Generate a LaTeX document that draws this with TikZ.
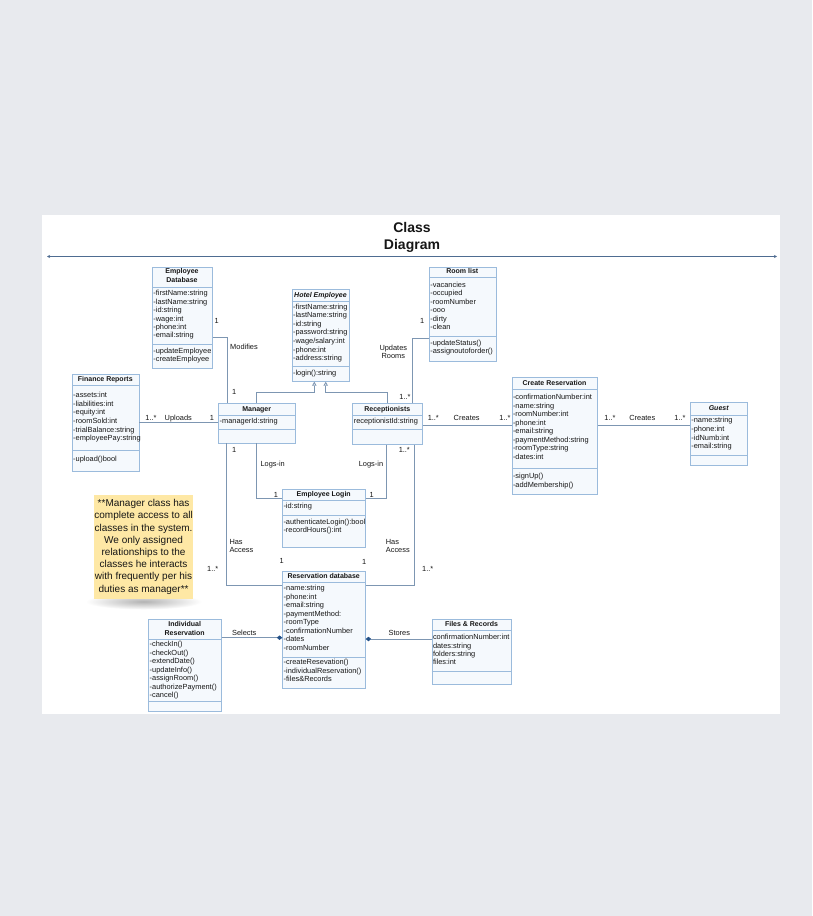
\documentclass[tikz,border=0pt]{standalone}
\usepackage{fontspec}
\setmainfont{Liberation Sans}
\usetikzlibrary{arrows.meta}

\begin{document}
\begin{tikzpicture}[x=1pt, y=-1pt,
  classbox/.style={draw=boxline, fill=boxfill, line width=0.7pt, inner sep=0pt, anchor=north west},
  sepline/.style={draw=boxline, line width=0.7pt},
  classname/.style={font=\bfseries\fontsize{7}{9}\selectfont, text=txtcolor, inner sep=0pt, text height=5.2pt, text depth=1.5pt},
  classnametwo/.style={font=\bfseries\fontsize{7}{9}\selectfont, text=txtcolor, inner sep=0pt, align=center},
  member/.style={font=\fontsize{7.4}{8.5}\selectfont, text=txtcolor, anchor=west, inner sep=0pt, text height=5.4pt, text depth=1.5pt},
  lbl/.style={font=\fontsize{7.4}{8.5}\selectfont, text=txtcolor, inner sep=0pt, text height=5.4pt, text depth=1.5pt},
  lbltwo/.style={font=\fontsize{7.4}{8.6}\selectfont, text=txtcolor, inner sep=0pt},
  conn/.style={draw=linecolor, line width=0.8pt}]

\definecolor{bggray}{RGB}{232, 234, 238}
\definecolor{boxline}{RGB}{155, 187, 220}
\definecolor{boxfill}{RGB}{245, 249, 253}
\definecolor{linecolor}{RGB}{125, 150, 178}
\definecolor{txtcolor}{RGB}{22, 22, 22}
\definecolor{titleline}{RGB}{78, 108, 145}
\definecolor{notefill}{RGB}{254, 232, 165}
\definecolor{diamondcolor}{RGB}{35, 80, 135}

% page and panel
\fill[bggray] (0,0) rectangle (812,916);
\fill[white] (42,215) rectangle (780,714);
\useasboundingbox (0,0) rectangle (812,916);

% title
\node[font=\bfseries\fontsize{14}{17.7}\selectfont, align=center, text=txtcolor] (title) at (412,237.5) {Class\\Diagram};
\coordinate (tleft) at (47,256.5);
\coordinate (tright) at (777,256.5);
\draw[titleline, line width=1pt, {Stealth[length=3pt,width=3pt]}-{Stealth[length=3pt,width=3pt]}] (tleft) -- (tright);

% Employee Database
\node[classbox, minimum width=60pt, minimum height=101pt] (empdb) at (152,267) {};
\draw[sepline] (152,287) -- (212,287);
\draw[sepline] (152,344.5) -- (212,344.5);
\node[classnametwo] (empdb-name) at (182,275.8) {Employee\\Database};
\foreach \m [count=\i from 0] in {-firstName:string,-lastName:string,-id:string,-wage:int,-phone:int,-email:string}
  \node[member] (empdb-a\i) at (153.2,{294+8.4*\i}) {\m};
\foreach \m [count=\i from 0] in {-updateEmployee,-createEmployee}
  \node[member] (empdb-m\i) at (153.2,{351.3+8.7*\i}) {\m};

% Hotel Employee
\node[classbox, minimum width=57.6pt, minimum height=92pt] (hotel) at (291.7,289) {};
\draw[sepline] (291.7,301.7) -- (349.3,301.7);
\draw[sepline] (291.7,366.5) -- (349.3,366.5);
\node[classname, font=\bfseries\itshape\fontsize{7}{9}\selectfont] (hotel-name) at (320.5,295.3) {Hotel Employee};
\foreach \m [count=\i from 0] in {-firstName:string,-lastName:string,-id:string,-password:string,-wage/salary:int,-phone:int,-address:string}
  \node[member] (hotel-a\i) at (292.9,{307.3+8.57*\i}) {\m};
\node[member] (hotel-m0) at (292.9,373.3) {-login():string};

% Room list
\node[classbox, minimum width=66.7pt, minimum height=94pt] (rooms) at (429,266.7) {};
\draw[sepline] (429,277.3) -- (495.7,277.3);
\draw[sepline] (429,336.7) -- (495.7,336.7);
\node[classname] (rooms-name) at (462.3,271.8) {Room list};
\foreach \m [count=\i from 0] in {-vacancies,-occupied,-roomNumber,-ooo,-dirty,-clean}
  \node[member] (rooms-a\i) at (430.2,{285.3+8.48*\i}) {\m};
\foreach \m [count=\i from 0] in {-updateStatus(),-assignoutoforder()}
  \node[member] (rooms-m\i) at (430.2,{343.3+8.4*\i}) {\m};

% Finance Reports
\node[classbox, minimum width=66.7pt, minimum height=96.7pt] (finance) at (72,374.3) {};
\draw[sepline] (72,385.7) -- (138.7,385.7);
\draw[sepline] (72,450) -- (138.7,450);
\node[classname] (finance-name) at (105.3,379.8) {Finance Reports};
\foreach \m [count=\i from 0] in {-assets:int,-liabilities:int,-equity:int,-roomSold:int,-trialBalance:string,-employeePay:string}
  \node[member] (finance-a\i) at (73,{395.7+8.6*\i}) {\m};
\node[member] (finance-m0) at (73,459.3) {-upload()bool};

% Manager
\node[classbox, minimum width=76.7pt, minimum height=39.2pt] (mgr) at (218.3,403.3) {};
\draw[sepline] (218.3,415.3) -- (295,415.3);
\draw[sepline] (218.3,429.3) -- (295,429.3);
\node[classname] (mgr-name) at (256.7,409.3) {Manager};
\node[member] (mgr-a0) at (219.5,421.7) {-managerId:string};

% Receptionists
\node[classbox, minimum width=70pt, minimum height=40.7pt] (recep) at (352.3,403.3) {};
\draw[sepline] (352.3,415.5) -- (422.3,415.5);
\draw[sepline] (352.3,429.3) -- (422.3,429.3);
\node[classname] (recep-name) at (387.3,409.3) {Receptionists};
\node[member] (recep-a0) at (353.6,421.7) {receptionistId:string};

% Employee Login
\node[classbox, minimum width=82.7pt, minimum height=58.3pt] (login) at (282.3,489) {};
\draw[sepline] (282.3,500) -- (365,500);
\draw[sepline] (282.3,515) -- (365,515);
\node[classname] (login-name) at (323.7,494.5) {Employee Login};
\node[member] (login-a0) at (283.3,507) {-id:string};
\foreach \m [count=\i from 0] in {-authenticateLogin():bool,-recordHours():int}
  \node[member] (login-m\i) at (283.3,{522.3+8.4*\i}) {\m};

% Reservation database
\node[classbox, minimum width=82.7pt, minimum height=117.6pt] (resdb) at (282.3,570.7) {};
\draw[sepline] (282.3,582.3) -- (365,582.3);
\draw[sepline] (282.3,657.3) -- (365,657.3);
\node[classname] (resdb-name) at (323.7,576.4) {Reservation database};
\foreach \m [count=\i from 0] in {-name:string,-phone:int,-email:string,-paymentMethod:,-roomType,-confirmationNumber,-dates,-roomNumber}
  \node[member] (resdb-a\i) at (283.5,{589+8.47*\i}) {\m};
\foreach \m [count=\i from 0] in {-createResevation(),-individualReservation(),-files\&Records}
  \node[member] (resdb-m\i) at (283.5,{662.7+8.5*\i}) {\m};

% Files & Records
\node[classbox, minimum width=79.6pt, minimum height=64.7pt] (files) at (431.7,619.3) {};
\draw[sepline] (431.7,630.7) -- (511.3,630.7);
\draw[sepline] (431.7,671.3) -- (511.3,671.3);
\node[classname] (files-name) at (471.5,625) {Files \& Records};
\foreach \m [count=\i from 0] in {confirmationNumber:int,dates:string,folders:string,files:int}
  \node[member] (files-a\i) at (432.8,{638+8.33*\i}) {\m};

% Individual Reservation
\node[classbox, minimum width=72.7pt, minimum height=91.7pt] (indiv) at (148.3,619.3) {};
\draw[sepline] (148.3,639.6) -- (221,639.6);
\draw[sepline] (148.3,701.7) -- (221,701.7);
\node[classnametwo] (indiv-name) at (184.7,628.5) {Individual\\Reservation};
\foreach \m [count=\i from 0] in {-checkIn(),-checkOut(),-extendDate(),-updateInfo(),-assignRoom(),-authorizePayment(),-cancel()}
  \node[member] (indiv-m\i) at (149.5,{644.8+8.5*\i}) {\m};

% Create Reservation
\node[classbox, minimum width=85.6pt, minimum height=116.7pt] (creres) at (511.7,377.3) {};
\draw[sepline] (511.7,389) -- (597.3,389);
\draw[sepline] (511.7,468) -- (597.3,468);
\node[classname] (creres-name) at (554.5,383.2) {Create Reservation};
\foreach \m [count=\i from 0] in {-confirmationNumber:int,-name:string,-roomNumber:int,-phone:int,-email:string,-paymentMethod:string,-roomType:string,-dates:int}
  \node[member] (creres-a\i) at (512.8,{398+8.47*\i}) {\m};
\foreach \m [count=\i from 0] in {-signUp(),-addMembership()}
  \node[member] (creres-m\i) at (512.8,{476.7+8.6*\i}) {\m};

% Guest
\node[classbox, minimum width=57.3pt, minimum height=62.7pt] (guest) at (690,402.3) {};
\draw[sepline] (690,415) -- (747.3,415);
\draw[sepline] (690,455) -- (747.3,455);
\node[classname, font=\bfseries\itshape\fontsize{7}{9}\selectfont] (guest-name) at (718.7,408.6) {Guest};
\foreach \m [count=\i from 0] in {-name:string,-phone:int,-idNumb:int,-email:string}
  \node[member] (guest-a\i) at (691.2,{421+8.57*\i}) {\m};

% note
\shade[inner color=black!30, outer color=white] (143.6,601.5) ellipse (58 and 8);
\node[fill=notefill, minimum width=99.3pt, minimum height=104.3pt, inner sep=0pt, align=center,
  font=\fontsize{10}{12.2}\selectfont, text=txtcolor] (note) at (143.6,546.8)
  {**Manager class has\\complete access to all\\classes in the system.\\We only assigned\\relationships to the\\classes he interacts\\with frequently per his\\duties as manager**};

% connectors
\draw[conn] ([yshift=-70.3pt]empdb.north east) -| ([xshift=9pt]mgr.north west);
\draw[conn, -{Triangle[open, length=4pt, width=4.5pt, fill=white]}] ([xshift=38.4pt]mgr.north west) -- ++(0,-11) -| ([xshift=22.6pt]hotel.south west);
\draw[conn, -{Triangle[open, length=4pt, width=4.5pt, fill=white]}] ([xshift=35pt]recep.north west) -- ++(0,-11) -| ([xshift=34pt]hotel.south west);
\draw[conn] ([yshift=-71.6pt]rooms.north west) -| ([xshift=60.4pt]recep.north west);
\draw[conn] ([yshift=-48pt]finance.north east) -- ([yshift=-19pt]mgr.north west);
\draw[conn] ([yshift=-21.7pt]recep.north east) -- ([yshift=-47.7pt]creres.north west);
\draw[conn] ([yshift=-47.7pt]creres.north east) -- ([yshift=-22.7pt]guest.north west);
\draw[conn] ([xshift=38.4pt]mgr.south west) |- ([yshift=-9.3pt]login.north west);
\draw[conn] ([xshift=34.4pt]recep.south west) |- ([yshift=-9.3pt]login.north east);
\draw[conn] ([xshift=8.4pt]mgr.south west) |- ([yshift=-15pt]resdb.north west);
\draw[conn] ([xshift=62pt]recep.south west) |- ([yshift=-15pt]resdb.north east);
\draw[conn, -{Diamond[length=5.5pt, width=4.5pt, color=diamondcolor, fill=diamondcolor]}] ([yshift=-18.4pt]indiv.north east) -- ([yshift=-67pt]resdb.north west);
\draw[conn, -{Diamond[length=5.5pt, width=4.5pt, color=diamondcolor, fill=diamondcolor]}] ([yshift=-19.7pt]files.north west) -- ([yshift=-68.3pt]resdb.north east);

% connector labels
\node[lbl] (mod-m1) at (216.7,321.7) {1};
\node[lbl] (mod-txt) at (244,347.7) {Modifies};
\node[lbl] (mod-m2) at (234.3,392.3) {1};
\node[lbltwo, align=center] (upd-txt) at (393.3,352) {Updates\\Rooms};
\node[lbl] (upd-m1) at (422.3,321.7) {1};
\node[lbl] (upd-m2) at (405,397.7) {1..*};
\node[lbl] (upl-m1) at (151,418.7) {1..*};
\node[lbl] (upl-txt) at (178.3,418.7) {Uploads};
\node[lbl] (upl-m2) at (212,418.7) {1};
\node[lbl] (cr1-m1) at (433.3,419) {1..*};
\node[lbl] (cr1-txt) at (466.7,419) {Creates};
\node[lbl] (cr1-m2) at (505,419) {1..*};
\node[lbl] (cr2-m1) at (610,418.7) {1..*};
\node[lbl] (cr2-txt) at (642.3,418.7) {Creates};
\node[lbl] (cr2-m2) at (680,418.7) {1..*};
\node[lbl] (log1-m1) at (234.3,451) {1};
\node[lbl] (log1-txt) at (272.7,464.3) {Logs-in};
\node[lbl] (log1-m2) at (276,496) {1};
\node[lbl] (log2-m1) at (404.3,451) {1..*};
\node[lbl] (log2-txt) at (371,464.3) {Logs-in};
\node[lbl] (log2-m2) at (371.7,496) {1};
\node[lbltwo, align=left, anchor=west] (acc1-txt) at (229.3,545.8) {Has\\Access};
\node[lbl] (acc1-m1) at (212.7,569.3) {1..*};
\node[lbl] (acc1-m2) at (281.7,561.7) {1};
\node[lbltwo, align=left, anchor=west] (acc2-txt) at (385.7,545.8) {Has\\Access};
\node[lbl] (acc2-m1) at (427.7,569.3) {1..*};
\node[lbl] (acc2-m2) at (364.3,562.3) {1};
\node[lbl] (sel-txt) at (244.3,633.3) {Selects};
\node[lbl] (sto-txt) at (399.3,633.3) {Stores};

\end{tikzpicture}
\end{document}
